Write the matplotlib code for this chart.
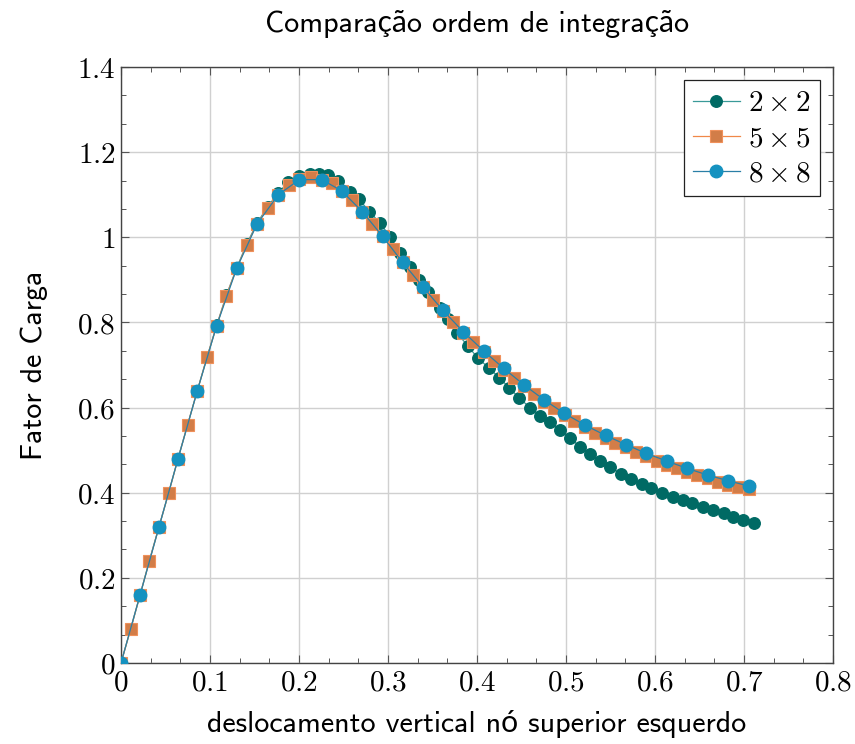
import matplotlib
matplotlib.use("Agg")
import matplotlib.pyplot as plt
from matplotlib.ticker import FixedLocator, FixedFormatter

plt.rcParams['mathtext.fontset'] = 'cm'

# ---------------- data ----------------
x_2x2 = [0.0, 0.0109, 0.0215, 0.0318, 0.0427, 0.0536, 0.064, 0.0749, 0.0858, 0.0966,
         0.1075, 0.1184, 0.130, 0.1412, 0.1528, 0.1648, 0.1768, 0.188, 0.200, 0.2125,
         0.2225, 0.233, 0.2442, 0.2573, 0.2678, 0.279, 0.291, 0.3025, 0.3135, 0.3247,
         0.335, 0.345, 0.3584, 0.3678, 0.378, 0.390, 0.401, 0.414, 0.425, 0.436,
         0.4476, 0.4596, 0.471, 0.482, 0.493, 0.5045, 0.516, 0.527, 0.538, 0.549,
         0.5614, 0.573, 0.585, 0.596, 0.608, 0.620, 0.631, 0.642, 0.6536, 0.6655,
         0.677, 0.688, 0.699, 0.711]
y_2x2 = [0.0, 0.080, 0.160, 0.240, 0.320, 0.400, 0.480, 0.560, 0.640, 0.718,
         0.793, 0.864, 0.928, 0.984, 1.033, 1.072, 1.104, 1.131, 1.143, 1.148,
         1.148, 1.146, 1.133, 1.1075, 1.089, 1.060, 1.034, 1.0005, 0.963, 0.931,
         0.900, 0.872, 0.835, 0.809, 0.774, 0.744, 0.716, 0.692, 0.670, 0.647,
         0.622, 0.600, 0.581, 0.565, 0.547, 0.528, 0.508, 0.490, 0.474, 0.461,
         0.445, 0.432, 0.420, 0.410, 0.400, 0.391, 0.383, 0.375, 0.367, 0.359,
         0.353, 0.344, 0.336, 0.328]

x_5x5 = [0.0, 0.0109, 0.0213, 0.0318, 0.0427, 0.0536, 0.064, 0.0749, 0.0858, 0.0966,
         0.1075, 0.1184, 0.130, 0.1412, 0.1528, 0.1648, 0.1768, 0.1888, 0.2004, 0.2133,
         0.2255, 0.2367, 0.248, 0.2594, 0.2708, 0.2822, 0.294, 0.3052, 0.3165, 0.3277,
         0.339, 0.350, 0.3614, 0.3734, 0.3846, 0.3959, 0.4075, 0.4186, 0.430, 0.4412,
         0.453, 0.464, 0.4755, 0.4867, 0.4984, 0.5095, 0.5213, 0.5322, 0.5444, 0.555,
         0.5674, 0.5787, 0.590, 0.602, 0.613, 0.6244, 0.6363, 0.6476, 0.6596, 0.671,
         0.6824, 0.6936, 0.7056]
y_5x5 = [0.0, 0.080, 0.159, 0.239, 0.320, 0.400, 0.479, 0.560, 0.640, 0.718,
         0.7925, 0.863, 0.927, 0.982, 1.031, 1.069, 1.100, 1.123, 1.136, 1.1425,
         1.135, 1.127, 1.108, 1.088, 1.060, 1.032, 1.002, 0.972, 0.941, 0.912,
         0.883, 0.8535, 0.828, 0.800, 0.776, 0.753, 0.730, 0.710, 0.689, 0.6685,
         0.650, 0.632, 0.614, 0.598, 0.583, 0.569, 0.555, 0.541, 0.529, 0.5175,
         0.507, 0.4966, 0.486, 0.4756, 0.466, 0.457, 0.449, 0.4416, 0.434, 0.426,
         0.419, 0.4126, 0.408]

x_8x8 = [0.0, 0.0213, 0.0427, 0.064, 0.0858, 0.1075, 0.130, 0.1528, 0.1768, 0.2004,
         0.2255, 0.248, 0.2712, 0.294, 0.3165, 0.339, 0.3614, 0.3846, 0.4075, 0.430,
         0.453, 0.4755, 0.498, 0.5213, 0.5444, 0.5674, 0.590, 0.613, 0.6363, 0.659,
         0.6824, 0.7056]
y_8x8 = [0.0, 0.159, 0.3195, 0.479, 0.640, 0.7925, 0.927, 1.031, 1.100, 1.1355,
         1.1355, 1.109, 1.060, 1.002, 0.941, 0.884, 0.829, 0.778, 0.733, 0.692,
         0.653, 0.618, 0.5865, 0.559, 0.5345, 0.513, 0.4925, 0.4745, 0.457, 0.4416,
         0.428, 0.4155]

labels = [r'$2\times2$', r'$5\times5$', r'$8\times8$']

x_major = [0, 0.1, 0.2, 0.3, 0.4, 0.5, 0.6, 0.7, 0.8]
x_major_labels = ['0', '0.1', '0.2', '0.3', '0.4', '0.5', '0.6', '0.7', '0.8']
y_major = [0, 0.2, 0.4, 0.6, 0.8, 1.0, 1.2, 1.4]
y_major_labels = ['0', '0.2', '0.4', '0.6', '0.8', '1', '1.2', '1.4']

title = 'Comparação ordem de integração'
xlabel = 'deslocamento vertical nó superior esquerdo'
ylabel = 'Fator de Carga'

# ---------------- figure ----------------
fig = plt.figure(figsize=(8.55, 7.44), dpi=100)
ax = fig.add_axes([121/855, 1 - 663/744, (833-121)/855, (663-67)/744])

ax.plot(x_2x2, y_2x2, '-o', color='#3a9a98', lw=0.9, ms=8.3,
        mfc='#006a64', mec='#006a64', label=labels[0], zorder=3)
ax.plot(x_5x5, y_5x5, '-s', color='#f08848', lw=0.9, ms=8.6,
        mfc='#d27d48', mec='#f0905a', mew=0.8, label=labels[1], zorder=4)
ax.plot(x_8x8, y_8x8, '-o', color='#2a7fa6', lw=0.9, ms=9.0,
        mfc='#1592c0', mec='#1592c0', label=labels[2], zorder=5)

ax.set_xlim(0, 0.8)
ax.set_ylim(0, 1.4)

ax.xaxis.set_major_locator(FixedLocator(x_major))
ax.xaxis.set_major_formatter(FixedFormatter(['$%s$' % s for s in x_major_labels]))
ax.yaxis.set_major_locator(FixedLocator(y_major))
ax.yaxis.set_major_formatter(FixedFormatter(['$%s$' % s for s in y_major_labels]))
ax.xaxis.set_minor_locator(FixedLocator([i * 0.1 / 3 for i in range(25)]))
ax.yaxis.set_minor_locator(FixedLocator([i * 0.2 / 3 for i in range(22)]))

ax.tick_params(which='both', direction='in', top=True, right=True, color='#555555')
ax.tick_params(which='major', length=6, width=0.8, labelsize=21, pad=4)
ax.tick_params(which='minor', length=3.5, width=0.7)

ax.grid(True, which='major', color='#d0d0d0', lw=1.0, zorder=0)
ax.set_axisbelow(True)
for sp in ax.spines.values():
    sp.set_color('#444444')
    sp.set_linewidth(1.0)

sans = ['cmss10', 'Lato', 'DejaVu Sans']
ax.set_title(title, family=sans, fontsize=21.6, pad=25)
ax.set_xlabel(xlabel, family=sans, fontsize=21.6, labelpad=10)
ax.set_ylabel(ylabel, family=sans, fontsize=21.6, labelpad=21)

leg = ax.legend(loc='upper right', fontsize=21, fancybox=False, edgecolor='#222222',
                framealpha=1, borderpad=0.3, labelspacing=0.25, handlelength=1.6,
                handletextpad=0.3, borderaxespad=0.45)
leg.get_frame().set_linewidth(0.9)

fig.savefig('out.png', dpi=100)
